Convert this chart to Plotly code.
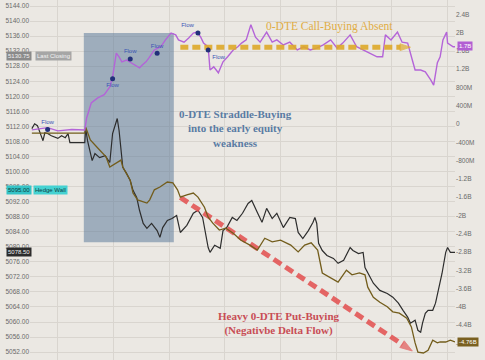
import plotly.graph_objects as go

DAY = "2024-04-04 "

# ---------------- data ----------------
es_time = ["08:32","08:35","08:38","08:41","08:44","08:46","08:49","08:53","08:57","09:00","09:04","09:08","09:11","09:13","09:29",
           "09:30","09:32","09:37","09:40","09:45","09:51","09:56","09:59","10:04","10:06","10:08","10:10","10:14","10:18","10:21",
           "10:25","10:28","10:32","10:36","10:41","10:47","10:50","10:53","10:58","11:03","11:08","11:12","11:19","11:26","11:31",
           "11:36","11:42","11:44","11:49","11:55","11:58","12:02","12:08","12:13","12:19","12:25","12:29","12:35","12:40","12:45",
           "12:51","12:56","13:03","13:10","13:16","13:19","13:24","13:30","13:35","13:37","13:39","13:41","13:45","13:50","13:57",
           "14:02","14:08","14:15","14:18","14:24","14:29","14:31","14:37","14:40","14:47","14:55","15:01","15:07","15:12","15:17",
           "15:20","15:25","15:28","15:31","15:33","15:36","15:39","15:44","15:47","15:50","15:54","15:58","16:00","16:03","16:08"]
es_price = [5111.4,5112.7,5112.2,5110.3,5108.2,5110.3,5110.1,5109.5,5109.0,5108.8,5109.5,5109.0,5110.1,5107.7,5107.7,
            5111.4,5108.2,5102.9,5104.8,5103.7,5104.2,5102.4,5110.1,5114.1,5110.9,5104.8,5101.1,5099.5,5097.6,5095.0,
            5093.1,5089.7,5086.2,5084.9,5086.2,5084.3,5082.5,5085.1,5087.0,5087.5,5088.3,5083.8,5085.7,5088.9,5089.7,
            5087.8,5079.8,5078.5,5080.4,5079.6,5084.3,5085.1,5087.8,5087.0,5088.9,5091.5,5092.3,5089.1,5086.5,5090.2,
            5087.5,5088.9,5085.1,5087.8,5087.5,5083.8,5082.2,5084.3,5086.5,5087.8,5086.2,5080.9,5079.0,5077.7,5076.9,
            5075.6,5076.4,5079.8,5079.0,5078.2,5078.5,5074.5,5071.9,5070.3,5068.4,5067.6,5066.6,5065.0,5063.1,5061.3,
            5059.7,5060.5,5057.8,5057.3,5059.7,5062.3,5063.1,5063.1,5065.0,5068.4,5072.9,5078.5,5079.8,5078.5,5078.5]

put_time = ["08:32","08:50","09:10","09:29","09:30","09:35","09:45","09:52","09:56","10:04","10:08","10:10","10:18","10:21","10:26",
            "10:36","10:39","10:44","10:50","10:58","11:04","11:09","11:12","11:19","11:26","11:31","11:38","11:42","11:47","11:54",
            "12:01","12:09","12:17","12:27","12:35","12:43","12:51","13:00","13:11","13:19","13:26","13:33","13:40","13:45","13:53",
            "14:02","14:11","14:17","14:25","14:31","14:34","14:40","14:47","14:55","15:01","15:08","15:16","15:21","15:25","15:28",
            "15:34","15:39","15:44","15:49","15:52","15:58","16:03","16:08"]
put_delta = [-0.20,-0.20,-0.19,-0.20,-0.07,-0.35,-0.57,-0.72,-0.94,-0.83,-0.79,-0.94,-1.23,-1.51,-1.66,
             -1.73,-1.66,-1.44,-1.38,-1.27,-1.29,-1.44,-1.60,-1.55,-1.51,-1.60,-1.82,-2.04,-2.17,-2.32,
             -2.28,-2.39,-2.54,-2.65,-2.76,-2.50,-2.58,-2.54,-2.65,-2.80,-2.65,-2.60,-2.76,-3.26,-3.35,
             -3.46,-3.20,-3.30,-3.26,-3.30,-3.57,-3.79,-3.90,-4.00,-4.11,-4.14,-4.25,-4.44,-4.79,-4.99,
             -5.01,-4.95,-4.73,-4.79,-4.77,-4.77,-4.73,-4.77]

call_time = ["08:32","08:40","08:49","09:00","09:15","09:29","09:31","09:36","09:43","09:50","09:56","09:59","10:03","10:06","10:09",
             "10:14","10:19","10:25","10:28","10:31","10:35","10:38","10:44","10:51","10:56","11:02","11:07","11:10","11:16","11:21",
             "11:26","11:30","11:34","11:37","11:42","11:44","11:48","11:53","11:58","12:03","12:09","12:14","12:18","12:23","12:28",
             "12:33","12:38","12:45","12:51","12:56","13:03","13:10","13:18","13:25","13:32","13:39","13:46","13:54","14:01","14:07",
             "14:15","14:22","14:29","14:37","14:44","14:50","14:53","14:59","15:06","15:11","15:17","15:22","15:25","15:31","15:36",
             "15:42","15:45","15:49","15:52","15:55","15:59","16:00","16:06","16:08"]
call_delta = [-0.13,-0.10,-0.08,-0.15,-0.12,-0.13,0.13,0.46,0.57,0.64,0.81,1.03,1.55,1.47,1.36,
              1.40,1.34,1.25,1.23,1.29,1.36,1.44,1.62,1.69,1.84,1.99,1.95,1.84,1.79,1.88,
              1.99,2.01,1.90,1.77,1.69,1.18,1.25,1.12,1.36,1.47,1.62,1.69,1.77,1.84,2.17,
              1.90,1.79,2.01,1.79,1.84,1.73,1.79,1.62,1.69,1.62,1.66,1.73,1.84,1.66,1.77,
              1.95,1.69,1.62,1.55,1.47,1.47,1.95,1.84,2.01,1.79,1.77,1.40,1.18,1.18,1.14,
              0.96,0.85,1.34,1.47,1.84,2.01,1.77,1.69,1.69]

flow_time = ["08:49","09:59","10:18","10:47","11:31","11:42"]
flow_value = [-0.12,0.99,1.42,1.55,1.99,1.62]
flow_label = ["Flow"] * 6

tick_es = [5144,5140,5136,5132,5128,5124,5120,5116,5112,5108,5104,5100,
           5096,5092,5088,5084,5080,5076,5072,5068,5064,5060,5056,5052]
tick_flow = [2.4,2.0,1.6,1.2,0.8,0.4,0,-0.4,-0.8,-1.2,-1.6,-2.0,-2.4,-2.8,-3.2,-3.6,-4.0,-4.4,-4.8]
tick_flow_text = ["2.4B","2B","1.6B","1.2B","800M","400M","0","-400M","-800M","-1.2B","-1.6B","-2B",
                  "-2.4B","-2.8B","-3.2B","-3.6B","-4B","-4.4B","-4.8B"]

last_close = 5130.75
hedge_wall = 5095.00
es_last = 5078.50
call_last = 1.70
put_last = -4.76

window_time = ["09:28","11:05"]
window_level = [5081.2,5136.8]
call_arrow_time = ["11:12","15:20"]
call_arrow_level = [1.68,1.68]
put_arrow_time = ["11:12","15:22"]
put_arrow_level = [5093.1,5052.3]

def t(lst):
    return [DAY + s for s in lst]

BG = "#ebe8e3"
GRID = "#d9d5cf"

fig = go.Figure()

fig.add_shape(type="rect", xref="x", yref="y",
              x0=DAY + window_time[0], x1=DAY + window_time[1],
              y0=window_level[0], y1=window_level[1],
              fillcolor="rgba(88,118,152,0.52)", line_width=0, layer="between")

fig.add_trace(go.Scatter(x=t(es_time), y=es_price, mode="lines",
                         line=dict(color="#2d2d2d", width=1.2), yaxis="y"))
fig.add_trace(go.Scatter(x=t(put_time), y=put_delta, mode="lines",
                         line=dict(color="#735d1c", width=1.3), yaxis="y2"))
fig.add_trace(go.Scatter(x=t(call_time), y=call_delta, mode="lines",
                         line=dict(color="#b464d8", width=1.4), yaxis="y2"))

# gold dashed arrow
fig.add_trace(go.Scatter(x=t(call_arrow_time), y=call_arrow_level, mode="lines+markers", yaxis="y2",
                         line=dict(color="rgba(222,168,40,0.9)", width=5, dash="8px,4px"),
                         marker=dict(symbol="arrow", size=[0, 11], angleref="previous",
                                     color="rgba(222,168,40,0.95)")))
# red dashed arrow
fig.add_trace(go.Scatter(x=t(put_arrow_time), y=put_arrow_level, mode="lines+markers", yaxis="y",
                         line=dict(color="rgba(226,82,82,0.88)", width=5, dash="9px,5px"),
                         marker=dict(symbol="arrow", size=[0, 13], angleref="previous",
                                     color="rgba(226,82,82,0.95)")))

# flow markers
fig.add_trace(go.Scatter(x=t(flow_time), y=flow_value, mode="markers+text", yaxis="y2",
                         marker=dict(color="#22307a", size=5),
                         text=flow_label,
                         textposition=["top center","bottom center","top center","top center","top left","bottom right"],
                         textfont=dict(family="Liberation Sans", size=6, color="#3a55b5")))

ann = []
ann.append(dict(x=DAY + "13:53", y=2.13, xref="x", yref="y2", showarrow=False,
                text="0-DTE Call-Buying Absent",
                font=dict(family="Liberation Serif", size=11.5, color="#e0ad45")))
ann.append(dict(x=DAY + "12:11", y=5111.5, xref="x", yref="y", showarrow=False,
                text="<b>0-DTE Straddle-Buying<br>into the early equity<br>weakness</b>",
                font=dict(family="Liberation Serif", size=11, color="#5a7ca3")))
ann.append(dict(x=DAY + "12:58", y=5059.5, xref="x", yref="y", showarrow=False,
                text="<b>Heavy 0-DTE Put-Buying<br>(Negativbe Delta Flow)</b>",
                font=dict(family="Liberation Serif", size=11, color="#c84d55")))

tagfont = dict(family="Liberation Sans", size=6)
# left tags
ann.append(dict(x=0, xref="paper", y=last_close, yref="y", xanchor="right", xshift=2, showarrow=False,
                text=f"{last_close:.2f}", bgcolor="#8a8a8a", borderpad=1,
                font=dict(tagfont, color="#f2f2f2")))
ann.append(dict(x=0, xref="paper", y=last_close, yref="y", xanchor="left", xshift=5, showarrow=False,
                text="Last Closing", bgcolor="#a6a6a6", borderpad=1,
                font=dict(tagfont, color="#f4f4f4")))
ann.append(dict(x=0, xref="paper", y=hedge_wall, yref="y", xanchor="right", xshift=2, showarrow=False,
                text=f"{hedge_wall:.2f}", bgcolor="#35c3c6", borderpad=1,
                font=dict(tagfont, color="#0d3f42")))
ann.append(dict(x=0, xref="paper", y=hedge_wall, yref="y", xanchor="left", xshift=3, showarrow=False,
                text="Hedge Wall", bgcolor="#45d2d2", borderpad=1,
                font=dict(tagfont, color="#0d3f42")))
ann.append(dict(x=0, xref="paper", y=es_last, yref="y", xanchor="right", xshift=2, showarrow=False,
                text=f"{es_last:.2f}", bgcolor="#2c2c2c", borderpad=1,
                font=dict(tagfont, color="#f0f0f0")))
# right tags
ann.append(dict(x=1, xref="paper", y=call_last, yref="y2", xanchor="left", xshift=2, showarrow=False,
                text=f"{call_last:.1f}B", bgcolor="#b25fd3", borderpad=1,
                font=dict(tagfont, color="#ffffff")))
ann.append(dict(x=1, xref="paper", y=put_last, yref="y2", xanchor="left", xshift=2, showarrow=False,
                text=f"{put_last:.2f}B", bgcolor="#7a6020", borderpad=1,
                font=dict(tagfont, color="#ffffff")))

fig.update_layout(
    width=485, height=360,
    margin=dict(l=30, r=30, t=0, b=0),
    paper_bgcolor=BG, plot_bgcolor=BG,
    showlegend=False,
    annotations=ann,
    xaxis=dict(type="date", range=[DAY + "08:30", DAY + "16:08"], dtick=3600000,
               tick0=DAY + "09:00", showticklabels=False, showgrid=True, gridcolor=GRID,
               gridwidth=1, zeroline=False, showline=False, ticks=""),
    yaxis=dict(range=[5049.9, 5145.6], tickvals=tick_es, ticktext=[f"{v:.2f}" for v in tick_es],
               showgrid=True, gridcolor=GRID, zeroline=False, ticks="", automargin=False,
               tickfont=dict(family="Liberation Sans", size=6.5, color="#6a6a6a")),
    yaxis2=dict(range=[-5.164, 2.713], overlaying="y", side="right", tickvals=tick_flow,
                ticktext=tick_flow_text, showgrid=False, zeroline=False,
                ticks="", automargin=False,
                tickfont=dict(family="Liberation Sans", size=6.5, color="#6a6a6a")),
)

fig.write_html("out.html", config={"displayModeBar": False},
               post_script="document.body.style.margin='0';document.body.style.background='#ebe8e3';")
